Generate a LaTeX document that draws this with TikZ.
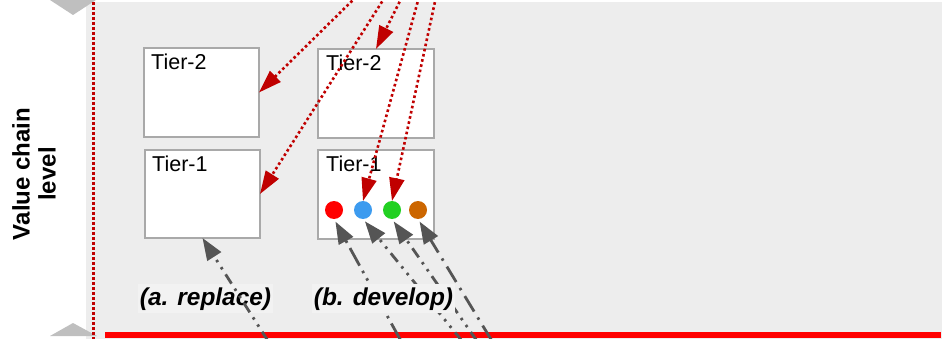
\documentclass[tikz,border=0pt]{standalone}
\usepackage{fontspec}
\setmainfont{Liberation Sans}
\usetikzlibrary{arrows.meta}

\definecolor{panel}{HTML}{EDEDED}
\definecolor{labelbg}{HTML}{F2F2F2}
\definecolor{axisgray}{HTML}{BFBFBF}
\definecolor{boxline}{HTML}{A9A9A9}
\definecolor{darkred}{HTML}{C00000}
\definecolor{arrowgray}{HTML}{555555}
\definecolor{dotred}{HTML}{FF0000}
\definecolor{dotblue}{HTML}{3D9BEF}
\definecolor{dotgreen}{HTML}{22D022}
\definecolor{dotorange}{HTML}{CC6600}

\tikzset{
  tierbox/.style={draw=boxline, line width=2pt, fill=white, rectangle,
    inner sep=0pt, outer sep=0pt},
  tiertext/.style={font=\fontsize{21.5pt}{25pt}\selectfont, inner sep=0pt},
  caselabel/.style={font=\fontsize{24.4pt}{28pt}\selectfont\bfseries\itshape,
    fill=labelbg, inner xsep=2pt, inner ysep=3pt},
  colordot/.style={circle, minimum size=18pt, inner sep=0pt, outer sep=0pt},
  reddotted/.style={draw=darkred, line width=2.6pt,
    dash pattern=on 2.6pt off 2.7pt},
  redarrow/.style={reddotted, -{Triangle[length=23pt, width=15pt]}},
  grayarrow/.style={draw=arrowgray, line width=2.8pt,
    -{Triangle[length=22pt, width=16pt]}},
  dashdotdot/.style={dash pattern=on 11pt off 6pt on 2.5pt off 6pt on 2.5pt off 6pt},
  longdashdotdot/.style={dash pattern=on 20pt off 6pt on 2.5pt off 6pt on 2.5pt off 6pt},
  longdashdot/.style={dash pattern=on 18pt off 7pt on 2.5pt off 7pt},
}

\begin{document}
\begin{tikzpicture}[x=1pt, y=-1pt]
\useasboundingbox (0,0) rectangle (947,339);

% panel and axis
\fill[panel] (86,2) rectangle (942,339);
\fill[axisgray] (50,0) -- (96,0) -- (73,15) -- cycle;
\fill[axisgray] (50,336) -- (97,336) -- (73,323) -- cycle;
\coordinate (vtop) at (93,2);
\coordinate (vbot) at (93,339);
\draw[draw=darkred, line width=3pt, dash pattern=on 2.8pt off 2.2pt] (vtop) -- (vbot);
\coordinate (baseL) at (105,335);
\coordinate (baseR) at (941,335);
\draw[dotred, line width=6pt] (baseL) -- (baseR);

\node[rotate=90, align=center, font=\fontsize{24pt}{26pt}\selectfont\bfseries]
  (axis) at (34,174) {Value chain\\level};

% tier boxes
\node[tierbox, minimum width=115pt, minimum height=89pt, anchor=north west] (l2) at (144,48) {};
\node[tierbox, minimum width=115pt, minimum height=88pt, anchor=north west] (l1) at (145,150) {};
\node[tierbox, minimum width=116pt, minimum height=89pt, anchor=north west] (r2) at (318,49) {};
\node[tierbox, minimum width=116pt, minimum height=89pt, anchor=north west] (r1) at (318,150) {};

\node[tiertext, anchor=base west] (l2t) at (151,70) {Tier-2};
\node[tiertext, anchor=base west] (l1t) at (152,172) {Tier-1};
\node[tiertext, anchor=base west] (r2t) at (326,71) {Tier-2};
\node[tiertext, anchor=base west] (r1t) at (326,172) {Tier-1};

% capability dots
\node[colordot, fill=dotred]    (dr) at (334,210) {};
\node[colordot, fill=dotblue]   (db) at (363,210) {};
\node[colordot, fill=dotgreen]  (dg) at (392,210) {};
\node[colordot, fill=dotorange] (do) at (418,210) {};

% replace case
\node[caselabel, anchor=base] (lblA) at (205.5,305) {(a. replace)};
\coordinate (gA) at (268,341);
\draw[grayarrow, dashdotdot] (gA) -- (l1.south);

% develop case
\coordinate (gB) at (401,341);
\coordinate (gC) at (462,341);
\coordinate (gD) at (477,341);
\coordinate (gE) at (492,341);
\draw[grayarrow, longdashdotdot, shorten >=3pt] (gB) -- (dr.south);
\draw[grayarrow, dashdotdot, shorten >=3pt] (gC) -- (db.south);
\draw[grayarrow, dashdotdot, shorten >=3pt] (gD) -- (dg.south);
\draw[grayarrow, longdashdot, shorten >=3pt] (gE) -- (do.south);
\node[caselabel, anchor=base] (lblB) at (383.5,305) {(b. develop)};

% incoming red flows from above
\coordinate (s1) at (356,-3);
\coordinate (s2) at (385,-3);
\coordinate (s3) at (402,-3);
\coordinate (s4) at (419,-3);
\coordinate (s5) at (436,-3);
\draw[redarrow] (s1) -- (l2.east);
\draw[redarrow] (s2) -- (l1.east);
\draw[redarrow] (s3) -- (r2.north);
\draw[redarrow] (s4) -- (db.north);
\draw[redarrow] (s5) -- (dg.north);
\end{tikzpicture}
\end{document}
